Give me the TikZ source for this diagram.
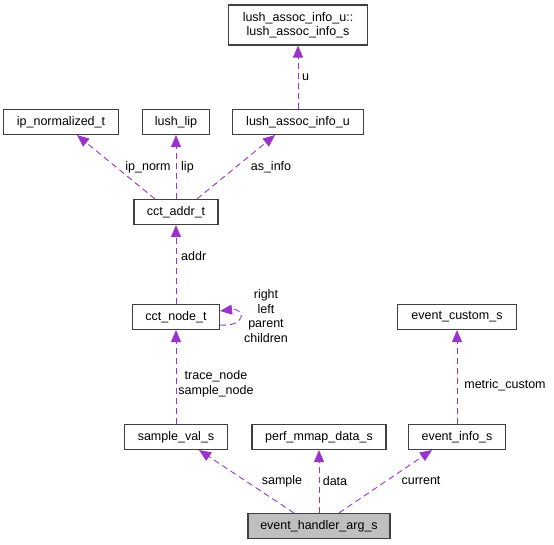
\documentclass[tikz,border=0pt]{standalone}
\usepackage{fontspec}
\setmainfont{Liberation Sans}
\usetikzlibrary{arrows.meta,positioning}
\definecolor{edgepurple}{RGB}{154,50,205}
\definecolor{boxgray}{RGB}{191,191,191}

\begin{document}
\begin{tikzpicture}[x=1pt, y=-1pt]
\tikzstyle{every node}=[font=\fontsize{12.5}{14.5}\selectfont]
\tikzstyle{box}=[draw=black!75, line width=1.1pt, minimum height=25pt,
                 inner sep=0pt, align=center]
\tikzstyle{member}=[edgepurple, line width=0.9pt, dash pattern=on 6pt off 4pt,
                    -{Triangle[length=12pt,width=10pt]}]
\tikzstyle{lbl}=[inner sep=0pt, align=center]
\useasboundingbox (0,0) rectangle (554,545);
% classes
\node[box, minimum width=139pt, minimum height=40pt] (lais) at (298,25)
      {lush\_assoc\_info\_u::\\lush\_assoc\_info\_s};
\node[box, minimum width=115pt] (ipn)  at (61,122)  {ip\_normalized\_t};
\node[box, minimum width=67pt]  (lip)  at (176,122) {lush\_lip};
\node[box, minimum width=131pt] (laiu) at (298,122) {lush\_assoc\_info\_u};
\node[box, minimum width=84pt]  (addr) at (176,212) {cct\_addr\_t};
\node[box, minimum width=87pt]  (cnode) at (176,317) {cct\_node\_t};
\node[box, minimum width=119pt] (ecust) at (457,317) {event\_custom\_s};
\node[box, minimum width=103pt] (sval) at (176,437) {sample\_val\_s};
\node[box, minimum width=134pt] (pmd)  at (319,437) {perf\_mmap\_data\_s};
\node[box, minimum width=97pt]  (einfo) at (457,437) {event\_info\_s};
\node[box, minimum width=142pt, fill=boxgray] (harg) at (319,526)
      {event\_handler\_arg\_s};
% members
\draw[member] ([xshift=-25pt]harg.north) -- ([xshift=23pt]sval.south);
\draw[member] (harg.north) -- (pmd.south);
\draw[member] ([xshift=20pt]harg.north) -- ([xshift=-25pt]einfo.south);
\draw[member] (einfo.north) -- (ecust.south);
\draw[member] (sval.north) -- (cnode.south);
\draw[member] ([yshift=-8pt]cnode.east) .. controls +(26,2) and +(26,-3)
      .. ([yshift=6pt]cnode.east);
\draw[member] (cnode.north) -- (addr.south);
\draw[member] ([xshift=-21pt]addr.north) -- ([xshift=16pt]ipn.south);
\draw[member] (addr.north) -- (lip.south);
\draw[member] ([xshift=21pt]addr.north) -- ([xshift=-23pt]laiu.south);
\draw[member] (laiu.north) -- (lais.south);
% labels
\node[lbl, anchor=west] (lu) at (302,77) {u};
\node[lbl] (lipnorm) at (148,167) {ip\_norm};
\node[lbl, anchor=west] (llip) at (181,167) {lip};
\node[lbl] (lasinfo) at (271,167) {as\_info};
\node[lbl, anchor=west] (laddr) at (181,256) {addr};
\node[lbl] (lself) at (266,316) {right\\left\\parent\\children};
\node[lbl] (ltrace) at (216,384) {trace\_node\\sample\_node};
\node[lbl] (lmetric) at (505,385) {metric\_custom};
\node[lbl] (lsample) at (282,481) {sample};
\node[lbl] (ldata) at (335,481) {data};
\node[lbl] (lcurrent) at (421,481) {current};
\end{tikzpicture}
\end{document}
